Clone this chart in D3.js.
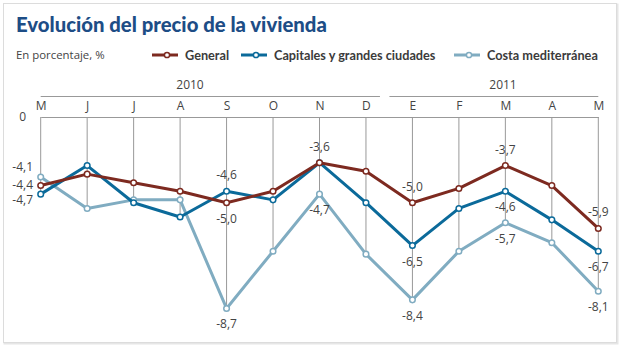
<!DOCTYPE html>
<html>
<head>
<meta charset="utf-8">
<script src="https://cdn.jsdelivr.net/npm/d3@7"></script>
<style>
  body { margin: 0; background: #fff; }
  text { font-family: "Open Sans", sans-serif; }
</style>
</head>
<body>
<div id="chart"></div>
<script>
// meses (mayo 2010 - mayo 2011)
var months = ["2010-05","2010-06","2010-07","2010-08","2010-09","2010-10","2010-11","2010-12",
              "2011-01","2011-02","2011-03","2011-04","2011-05"];
var monthLabels = ["M","J","J","A","S","O","N","D","E","F","M","A","M"];

// variación interanual, %
var general    = [-4.4, -4.0, -4.3, -4.6, -5.0, -4.6, -3.6, -3.9, -5.0, -4.5, -3.7, -4.4, -5.9];
var capitales  = [-4.7, -3.7, -5.0, -5.5, -4.6, -4.9, -3.6, -5.0, -6.5, -5.2, -4.6, -5.6, -6.7];
var costa      = [-4.1, -5.2, -4.9, -4.9, -8.7, -6.7, -4.7, -6.8, -8.4, -6.7, -5.7, -6.4, -8.1];

var seriesNames = ["General", "Capitales y grandes ciudades", "Costa mediterránea"];
var seriesColors = ["#7d2a20", "#0b6a9a", "#80acc1"];

// etiquetas de valor: [serie, mes, posición]
var valueLabels = [
  [2, 0, "left"], [0, 0, "left"], [1, 0, "left"],
  [1, 4, "above"], [0, 4, "below"], [2, 4, "below"],
  [0, 6, "above"], [2, 6, "below"],
  [0, 8, "above"], [1, 8, "below"], [2, 8, "below"],
  [0, 10, "above"], [1, 10, "below"], [2, 10, "below"],
  [0, 12, "above"], [1, 12, "below"], [2, 12, "below"]
];

var years = [
  {label: "2010", from: 0, to: 7},
  {label: "2011", from: 8, to: 12}
];

var width = 620, height = 347;
var data = [general, capitales, costa];

var svg = d3.select("#chart").append("svg")
    .attr("width", width)
    .attr("height", height);

// marco
svg.append("rect")
    .attr("x", 4.5).attr("y", 4.5)
    .attr("width", 613).attr("height", 339)
    .attr("fill", "none")
    .attr("stroke", "#e6e6e6")
    .attr("stroke-width", 2);
svg.append("rect")
    .attr("x", 3.5).attr("y", 3.5)
    .attr("width", 613).attr("height", 339)
    .attr("fill", "#fff")
    .attr("stroke", "#dcdcdc");

// título
svg.append("text")
    .attr("x", 16).attr("y", 32)
    .style("font-family", "Lato")
    .style("font-weight", 900)
    .style("font-size", "20.3px")
    .attr("fill", "#1d4d86")
    .text("Evolución del precio de la vivienda");

svg.append("text")
    .attr("x", 16).attr("y", 59)
    .style("font-size", "11.4px")
    .attr("fill", "#444")
    .text("En porcentaje, %");

// leyenda
var legendX = [152, 241, 454];
var legend = svg.selectAll(".legend")
    .data(seriesNames)
    .enter().append("g")
    .attr("class", "legend")
    .attr("transform", function(d, i) { return "translate(" + legendX[i] + ",55)"; });

legend.append("line")
    .attr("x1", 0).attr("x2", 26)
    .attr("stroke", function(d, i) { return seriesColors[i]; })
    .attr("stroke-width", 3);
legend.append("circle")
    .attr("cx", 15).attr("r", 2.6)
    .attr("fill", "#fff")
    .attr("stroke", function(d, i) { return seriesColors[i]; })
    .attr("stroke-width", 1.5);
legend.append("text")
    .attr("x", 33).attr("y", 4.5)
    .style("font-family", "Lato")
    .style("font-weight", 700)
    .style("font-size", "12.7px")
    .attr("fill", "#3b3b3b")
    .text(function(d) { return d; });

// escalas
var x = d3.scalePoint()
    .domain(months)
    .range([40.7, 598.3]);

// el eje arranca en -2 aunque se rotula como 0
var axisTop = -2;
var y = d3.scaleLinear()
    .domain([axisTop, -9])
    .range([117, 317]);

// años
var yearG = svg.selectAll(".year")
    .data(years)
    .enter().append("g")
    .attr("class", "year");
yearG.append("line")
    .attr("x1", function(d) { return d.from === 0 ? x(months[d.from]) : x(months[d.from]) - 23; })
    .attr("x2", function(d) { return d.to === 7 ? x(months[d.to]) + 14 : x(months[d.to]); })
    .attr("y1", 96.5).attr("y2", 96.5)
    .attr("stroke", "#999");
yearG.append("text")
    .attr("x", function(d) { return d.label === "2010" ? 190 : 503; })
    .attr("y", 89)
    .attr("text-anchor", "middle")
    .style("font-size", "12px")
    .attr("fill", "#444")
    .text(function(d) { return d.label; });

// eje x arriba
var xAxis = svg.append("g")
    .attr("transform", "translate(0," + y(axisTop) + ")")
    .call(d3.axisTop(x).tickSize(0).tickPadding(7)
        .tickFormat(function(d, i) { return monthLabels[i]; }));
xAxis.select(".domain").attr("stroke", "#999");
xAxis.selectAll("text")
    .style("font-family", "Open Sans")
    .style("font-size", "12px")
    .attr("fill", "#444");

svg.append("text")
    .attr("x", 26).attr("y", y(axisTop) + 4)
    .attr("text-anchor", "end")
    .style("font-size", "12px")
    .attr("fill", "#444")
    .text("0");

// líneas verticales hasta el valor más bajo de cada mes
svg.selectAll(".drop")
    .data(months)
    .enter().append("line")
    .attr("class", "drop")
    .attr("x1", function(d) { return x(d); })
    .attr("x2", function(d) { return x(d); })
    .attr("y1", y(axisTop))
    .attr("y2", function(d, i) { return y(d3.min(data, function(s) { return s[i]; })); })
    .attr("stroke", "#999");

// series
var line = d3.line()
    .x(function(d, i) { return x(months[i]); })
    .y(function(d) { return y(d); });

var order = [2, 1, 0];
order.forEach(function(si) {
  var g = svg.append("g");
  g.append("path")
      .datum(data[si])
      .attr("d", line)
      .attr("fill", "none")
      .attr("stroke", seriesColors[si])
      .attr("stroke-width", 3)
      .attr("stroke-linejoin", "round");
  g.selectAll("circle")
      .data(data[si])
      .enter().append("circle")
      .attr("cx", function(d, i) { return x(months[i]); })
      .attr("cy", function(d) { return y(d); })
      .attr("r", 2.8)
      .attr("fill", "#fff")
      .attr("stroke", seriesColors[si])
      .attr("stroke-width", 1.5);
});

// etiquetas de valor
var fmt = function(v) { return d3.format(".1f")(v).replace(".", ",").replace("−", "-"); };
var leftDy = {2: -10, 0: -1, 1: 6};

svg.selectAll(".vlabel")
    .data(valueLabels)
    .enter().append("text")
    .attr("class", "vlabel")
    .attr("x", function(d) { return d[2] === "left" ? 33 : x(months[d[1]]); })
    .attr("y", function(d) {
      var py = y(data[d[0]][d[1]]);
      if (d[2] === "left") return py + leftDy[d[0]] + 4;
      if (d[2] === "above") return py - 12;
      return py + 20;
    })
    .attr("text-anchor", function(d) { return d[2] === "left" ? "end" : "middle"; })
    .style("font-size", "12px")
    .attr("fill", "#444")
    .text(function(d) { return fmt(data[d[0]][d[1]]); });
</script>
</body>
</html>
